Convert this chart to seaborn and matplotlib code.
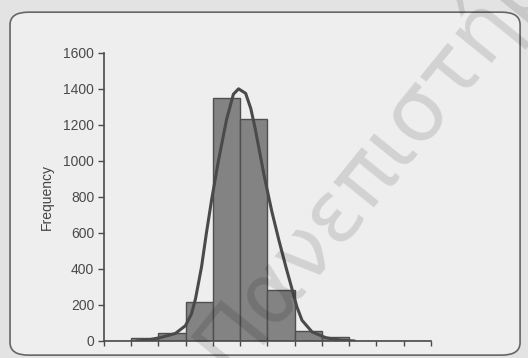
import numpy as np
import matplotlib
matplotlib.use('Agg')
import matplotlib.pyplot as plt
from matplotlib.patches import FancyBboxPatch
import seaborn as sns

# histogram bins (x has no labels, so bins are just 0..12)
bin_edges = [0, 1, 2, 3, 4, 5, 6, 7, 8, 9, 10, 11, 12]
bin_counts = [0, 15, 45, 215, 1350, 1235, 285, 55, 20, 0, 0, 0]

# fitted normal curve
curve_x = [1.2, 1.6, 2.1, 2.62, 2.99, 3.21, 3.36, 3.58, 3.76, 3.95, 4.2, 4.5, 4.75, 4.94,
           5.2, 5.39, 5.55, 5.7, 5.87, 6.16, 6.42, 6.68, 6.9, 7.08, 7.27, 7.64, 8.15, 8.7, 9.2]
curve_y = [0, 5, 20, 42, 85, 150, 235, 411, 600, 783, 1000, 1230, 1370, 1400,
           1375, 1290, 1180, 1060, 925, 720, 560, 410, 290, 190, 115, 50, 18, 4, 0]

yticks = [0, 200, 400, 600, 800, 1000, 1200, 1400, 1600]

sns.set_style('white')
plt.rcParams['font.family'] = ['Liberation Sans', 'DejaVu Sans']

fig = plt.figure(figsize=(5.28, 3.58), dpi=100, facecolor='#e3e3e3')

# rounded chart frame, behind the axes
frame = FancyBboxPatch((0.019, 0.008), 0.966, 0.958,
                       boxstyle='round,pad=0,rounding_size=0.035',
                       transform=fig.transFigure, facecolor='#eeeeee',
                       edgecolor='#666666', linewidth=1.2, zorder=-1)
fig.patches.append(frame)

ax = fig.add_axes([0.197, 0.0475, 0.619, 0.805])
ax.set_facecolor('none')

centers = [(a + b) / 2 for a, b in zip(bin_edges[:-1], bin_edges[1:])]
sns.histplot(x=centers, weights=bin_counts, bins=bin_edges, ax=ax,
             color='#838383', alpha=1, edgecolor='#4f4f4f', linewidth=1)
sns.lineplot(x=curve_x, y=curve_y, sort=False, ax=ax, color='#4a4a4a', linewidth=2.2)

ax.set_xlim(0, 12)
ax.set_ylim(0, 1600)
ax.set_xticks(bin_edges)
ax.set_xticklabels([])
ax.set_yticks(yticks)
ax.set_yticklabels([str(t) for t in yticks])
ax.set_xlabel('')
ax.set_ylabel('Frequency', fontsize=10, color='#444444', labelpad=7)

for s in ['top', 'right']:
    ax.spines[s].set_visible(False)
for s in ['left', 'bottom']:
    ax.spines[s].set_color('#4a4a4a')
    ax.spines[s].set_linewidth(1.2)
ax.tick_params(axis='y', direction='out', length=4, width=1, color='#4a4a4a',
               labelsize=10, labelcolor='#4a4a4a', pad=3, left=True)
ax.tick_params(axis='x', direction='out', length=3.5, width=1, color='#4a4a4a', bottom=True)

# watermark across the photo
fig.text(0.755, 0.64, 'Πανεπιστήμιο', rotation=51, fontsize=62, color='black',
         alpha=0.12, ha='center', va='center', rotation_mode='anchor',
         family=['DejaVu Sans'], zorder=5)

fig.savefig('out.png', dpi=100, facecolor=fig.get_facecolor())
